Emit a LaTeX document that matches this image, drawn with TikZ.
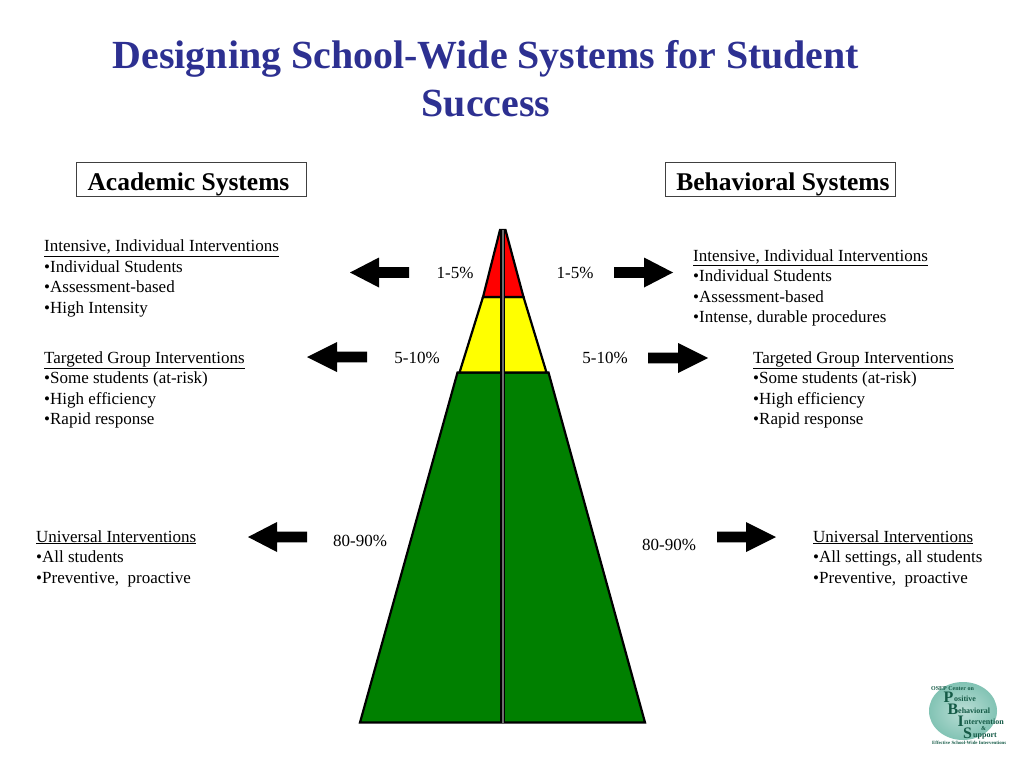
\documentclass[tikz,border=0pt]{standalone}
\usepackage{fontspec}
\setmainfont{Liberation Serif}
\usetikzlibrary{shapes.geometric}
\definecolor{titleblue}{RGB}{45,48,145}
\definecolor{pgreen}{RGB}{0,128,0}
\definecolor{pyellow}{RGB}{255,255,0}
\definecolor{pred}{RGB}{255,0,0}
\definecolor{divgray}{RGB}{110,110,110}
\definecolor{logoteal}{RGB}{130,195,180}
\definecolor{logodark}{RGB}{20,90,70}
\newcommand{\bigarrow}[4]{\fill[black] (#3,#4-5.3) -- (#2,#4-5.3) -- (#2,#4-15) -- (#1,#4) -- (#2,#4+15) -- (#2,#4+5.3) -- (#3,#4+5.3) -- cycle;}
\tikzset{
 x=1pt,y=-1pt,
 body/.style={anchor=north west,align=left,inner sep=0pt,font=\fontsize{17}{20.5}\selectfont},
 pct/.style={inner sep=0pt,font=\fontsize{17}{20.5}\selectfont},
 sysbox/.style={draw=black!75,line width=1pt,minimum width=230pt,minimum height=34pt,inner sep=0pt},
 systext/.style={inner sep=0pt,font=\bfseries\fontsize{25.5}{28}\selectfont},
 band/.style={draw=black,line width=2.2pt,line join=miter},
 lg/.style={inner sep=0pt,text=logodark,font=\bfseries\fontsize{8}{8}\selectfont,anchor=base west},
 lgb/.style={inner sep=0pt,text=logodark,font=\bfseries\fontsize{16}{16}\selectfont,anchor=base west}
}
\begin{document}
\begin{tikzpicture}
\useasboundingbox[fill=white] (0,0) rectangle (1024,768);
% title
\node[align=center,inner sep=0pt,text=titleblue,anchor=north,font=\bfseries\fontsize{39.9}{48}\selectfont] (title) at (486,40) {Designing School-Wide Systems for Student\\Success};
% boxes
\node[sysbox] (acad) at (191.5,179) {};
\node[sysbox] (behav) at (780.5,179) {};
\node[systext] (acadt) at (188.5,184) {Academic Systems};
\node[systext] (behavt) at (783,184) {Behavioral Systems};
% pyramid
\filldraw[band,fill=pgreen] (457.5,372.5) -- (548.5,372.5) -- (645,722.5) -- (360,722.5) -- cycle;
\filldraw[band,fill=pyellow] (459.5,372.5) -- (483,297) -- (523.5,297) -- (546.5,372.5) -- cycle;
\filldraw[band,fill=pred] (483,297) -- (500,230) -- (505.5,230) -- (523.5,297) -- cycle;
\fill[black] (500.4,230) rectangle (505,723);
\fill[divgray] (501.7,230) rectangle (503.7,723);
% percentages
\node[pct] (p1l) at (455,272.5) {1-5\%};
\node[pct] (p1r) at (575,272.5) {1-5\%};
\node[pct] (p2l) at (417,357.5) {5-10\%};
\node[pct] (p2r) at (605,357.5) {5-10\%};
\node[pct] (p3l) at (360,540.5) {80-90\%};
\node[pct] (p3r) at (669,544.5) {80-90\%};
% arrows
\bigarrow{350}{379}{409}{272.5}
\bigarrow{307}{337}{367}{357}
\bigarrow{248}{277}{307}{537}
\bigarrow{673}{644}{614}{272.5}
\bigarrow{708}{678}{648}{358}
\bigarrow{776}{746}{717}{537}
% text
\node[body] (t1) at (44,240) {\underline{Intensive, Individual Interventions}\\•Individual Students\\•Assessment-based\\•High Intensity};
\node[body] (t2) at (44,351) {\underline{Targeted Group Interventions}\\•Some students (at-risk)\\•High efficiency\\•Rapid response};
\node[body] (t3) at (36,530) {\underline{Universal Interventions}\\•All students\\•Preventive,\ \ proactive};
\node[body] (t4) at (693,249) {\underline{Intensive, Individual Interventions}\\•Individual Students\\•Assessment-based\\•Intense, durable procedures};
\node[body] (t5) at (753,351) {\underline{Targeted Group Interventions}\\•Some students (at-risk)\\•High efficiency\\•Rapid response};
\node[body] (t6) at (813,530) {\underline{Universal Interventions}\\•All settings, all students\\•Preventive,\ \ proactive};
% logo
\shade[inner color=logoteal!55,outer color=logoteal] (963,711) ellipse [x radius=34,y radius=29];
\node[lg,font=\bfseries\fontsize{6}{6}\selectfont] (l0) at (931,690) {OSEP Center on};
\node[lgb] (lp) at (943.5,702.5) {P};
\node[lg] (l1) at (954,701.5) {ositive};
\node[lgb] (lb) at (947.5,714.5) {B};
\node[lg] (l2) at (958,713) {ehavioral};
\node[lgb] (li) at (957.5,726) {I};
\node[lg] (l3) at (964,724.5) {ntervention};
\node[lg,font=\bfseries\fontsize{6}{6}\selectfont] (l4) at (981,730) {\&};
\node[lgb] (ls) at (963,738) {S};
\node[lg] (l5) at (973,737) {upport};
\node[lg,font=\bfseries\fontsize{4.8}{5}\selectfont] (l6) at (932,744.5) {Effective School-Wide Interventions};
\end{tikzpicture}
\end{document}
